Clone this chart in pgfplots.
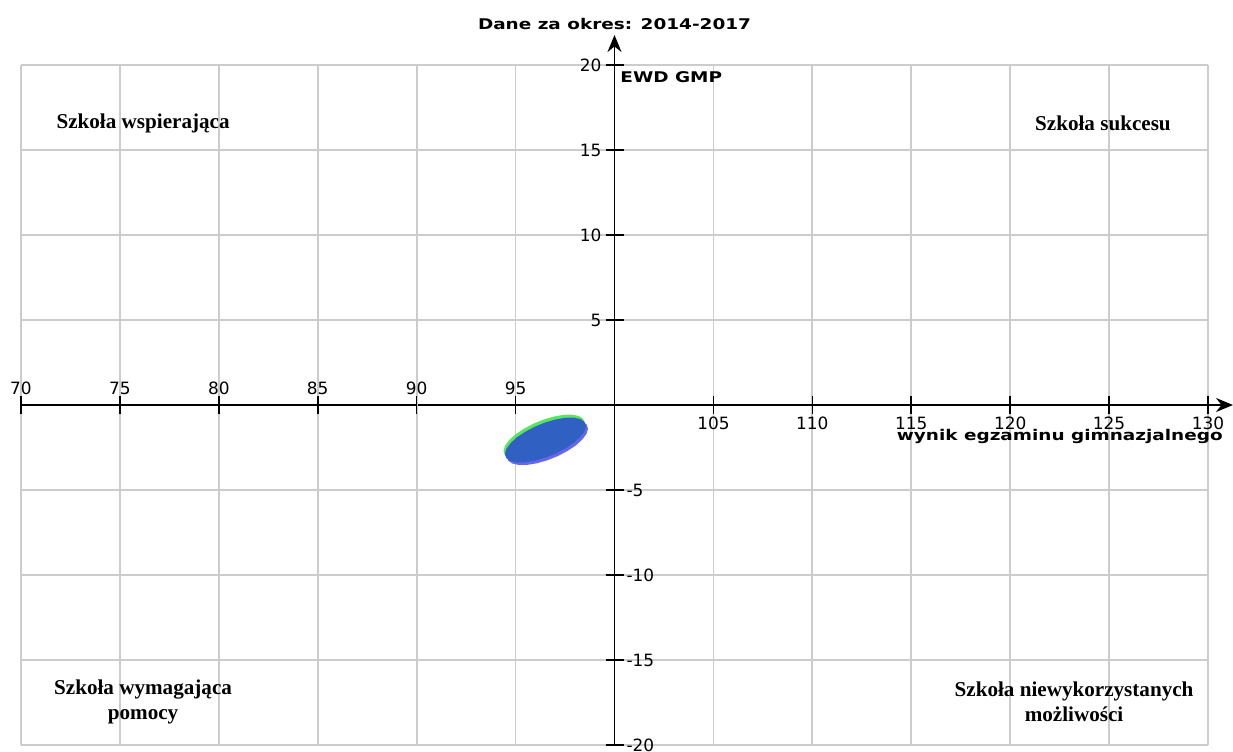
\documentclass[border=0pt]{standalone}
\usepackage{pgfplots}
\pgfplotsset{compat=1.18}
\usepackage{pgfplotstable}
\usetikzlibrary{arrows.meta}
\usepackage{fontspec}
\setmainfont{DejaVu Sans}
\newfontfamily\tnr{Liberation Serif}
\newfontfamily\wideb[FakeStretch=1.25]{DejaVu Sans}
\definecolor{gridc}{RGB}{204,204,204}
\definecolor{ellblue}{RGB}{47,96,194}
\definecolor{ellgreen}{RGB}{92,228,92}
\definecolor{ellviolet}{RGB}{102,102,242}
\pgfplotstableread{
x y
98.56 -1.237
98.49 -0.997
98.28 -0.829
97.96 -0.745
97.53 -0.751
97.04 -0.846
96.51 -1.024
95.98 -1.272
95.49 -1.575
95.06 -1.910
94.74 -2.255
94.53 -2.587
94.46 -2.884
94.53 -3.123
94.74 -3.291
95.06 -3.375
95.49 -3.369
95.98 -3.274
96.51 -3.096
97.04 -2.848
97.53 -2.545
97.96 -2.210
98.28 -1.865
98.49 -1.533
}\ellipsedata
\begin{document}
\begin{tikzpicture}
\begin{axis}[
  at={(0,0)}, anchor=south west,
  scale only axis, width=593.5bp, height=340bp,
  xmin=70, xmax=130, ymin=-20, ymax=20,
  x coord trafo/.code={\pgfmathparse{#1-100}},
  x coord inv trafo/.code={\pgfmathparse{#1+100}},
  clip=false,
  axis lines=middle,
  axis line style={black, line width=0.9bp, -{Stealth[length=8.5bp,width=7bp]}},
  x axis line style={shorten >=-12.5bp},
  y axis line style={shorten >=-15bp},
  grid=major,
  major grid style={gridc, line width=0.9bp},
  tick style={black, line width=0.8bp},
  major tick length=9bp,
  tick align=center,
  font=\fontsize{8.5}{10}\selectfont,
  /pgf/number format/assume math mode=true,
  xtick={105,110,115,120,125,130},
  xticklabels={105,110,115,120,125,130},
  xticklabel style={anchor=north, yshift=2bp},
  extra x ticks={70,75,80,85,90,95},
  extra x tick labels={70,75,80,85,90,95},
  extra x tick style={grid=major, xticklabel style={anchor=south, yshift=4bp}},
  ytick={5,10,15,20},
  yticklabels={5,10,15,20},
  yticklabel style={anchor=east, xshift=1.5bp},
  extra y ticks={-20,-15,-10,-5},
  extra y tick labels={-20,-15,-10,-5},
  extra y tick style={grid=major, yticklabel style={anchor=west, xshift=5.5bp}},
]
\addplot[draw=none, fill=ellgreen, xshift=-0.7bp, yshift=1.5bp] table {\ellipsedata} -- cycle;
\addplot[draw=none, fill=ellviolet, xshift=1bp, yshift=-1.3bp] table {\ellipsedata} -- cycle;
\addplot[draw=none, fill=ellblue] table {\ellipsedata} -- cycle;

\node[font={\wideb\bfseries\fontsize{7.4}{9}\selectfont}, anchor=base] at (axis cs:100,22.06) {Dane za okres: 2014-2017};
\node[font={\wideb\bfseries\fontsize{7.4}{9}\selectfont}, anchor=base west, inner sep=0pt] at (axis cs:100.28,18.97) {EWD GMP};
\node[font={\wideb\bfseries\fontsize{7.4}{9}\selectfont}, anchor=base east, inner sep=0pt] at (axis cs:130.76,-2.1) {wynik egzaminu gimnazjalnego};

\node[font={\tnr\bfseries\fontsize{10.6}{12.5}\selectfont}, align=center] at (axis cs:76.17,16.59) {Szkoła wspierająca};
\node[font={\tnr\bfseries\fontsize{10.6}{12.5}\selectfont}, align=center] at (axis cs:124.69,16.59) {Szkoła sukcesu};
\node[font={\tnr\bfseries\fontsize{10.6}{12.5}\selectfont}, align=center] at (axis cs:76.17,-17.47) {Szkoła wymagająca\\pomocy};
\node[font={\tnr\bfseries\fontsize{10.6}{12.5}\selectfont}, align=center] at (axis cs:123.23,-17.47) {Szkoła niewykorzystanych\\możliwości};
\end{axis}
\pgfresetboundingbox
\useasboundingbox (-10.5bp,-3.5bp) rectangle (606bp,372.5bp);
\end{tikzpicture}
\end{document}
